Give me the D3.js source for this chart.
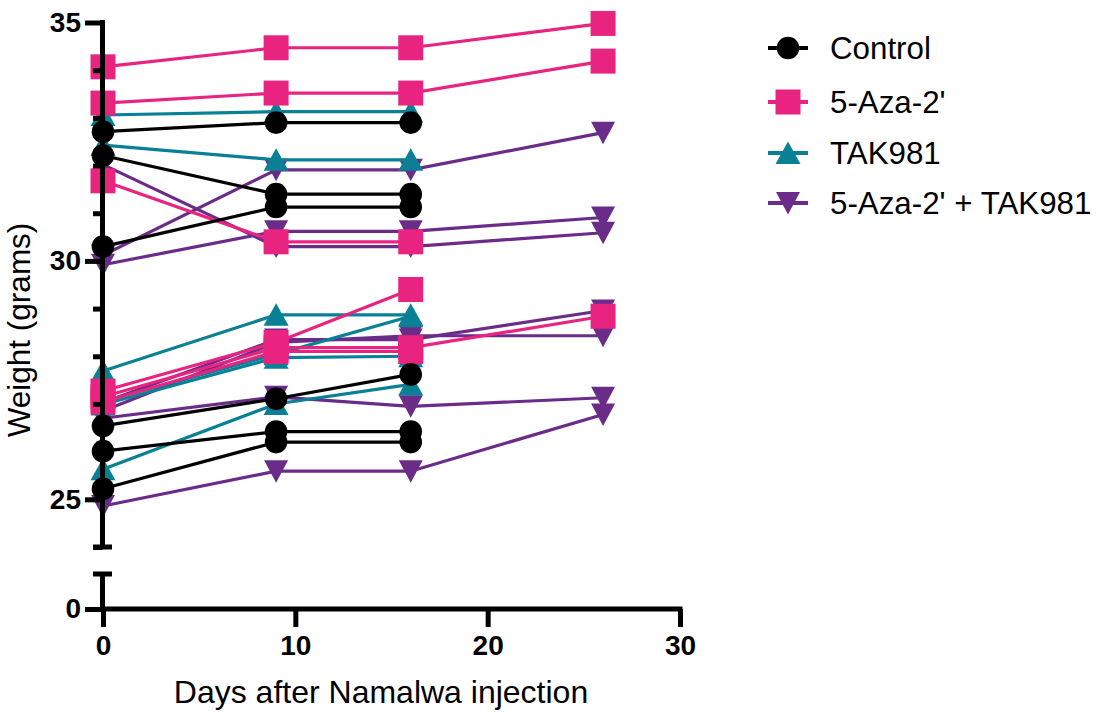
<!DOCTYPE html>
<html><head><meta charset="utf-8">
<script src="https://cdn.jsdelivr.net/npm/d3@7"></script>
<style>
html,body{margin:0;padding:0;background:#fff;}
svg{display:block;}
text{font-family:"Liberation Sans",Arial,Helvetica,sans-serif;}
</style></head>
<body>
<svg id="chart" width="1102" height="719"></svg>
<script>
// ---- data ----
const days = [0, 9, 16, 26];
const seriesNames = ["Control", "5-Aza-2'", "TAK981", "5-Aza-2' + TAK981"];
const seriesColors = ["#000000", "#E82480", "#0A8096", "#6A2C88"];
const seriesShapes = ["circle", "square", "triangleUp", "triangleDown"];

const control = [
  [32.71, 32.90, 32.90],
  [32.21, 31.40, 31.40],
  [30.30, 31.13, 31.13],
  [26.54, 27.11, 27.62],
  [26.01, 26.42, 26.42],
  [25.22, 26.20, 26.20]
];
const aza = [
  [34.07, 34.47, 34.47, 34.98],
  [33.31, 33.52, 33.52, 34.19],
  [31.68, 30.40, 30.40],
  [27.27, 28.29, 29.40],
  [27.15, 28.18, 28.18, 28.84],
  [27.04, 28.10, 28.10]
];
const tak = [
  [33.06, 33.13, 33.13],
  [32.43, 32.12, 32.12],
  [27.69, 28.87, 28.87],
  [27.05, 28.04, 28.84],
  [26.99, 27.97, 28.00],
  [25.63, 27.00, 27.41]
];
const combo = [
  [32.02, 30.30, 30.30, 30.59],
  [30.12, 31.91, 31.91, 32.69],
  [29.92, 30.62, 30.62, 30.91],
  [27.03, 28.35, 28.35, 28.96],
  [26.85, 28.29, 28.43, 28.43],
  [26.70, 27.15, 26.95, 27.13],
  [24.86, 25.59, 25.59, 26.78]
];
const xTicks = [0, 10, 20, 30];
const yMajorTicks = [25, 30, 35];
const yMinorTicks = [24, 26, 27, 28, 29, 31, 32, 33, 34];
const xTitle = "Days after Namalwa injection";
const yTitle = "Weight (grams)";

// ---- layout ----
const svg = d3.select("#chart");
const x = d3.scaleLinear().domain([0, 30]).range([103, 680]);
const yU = d3.scaleLinear().domain([24, 35]).range([547, 22.5]);
const yL = d3.scaleLinear().domain([0, 0.73]).range([609, 574]);
const axisX = 102.5;
const SW = 5;

// markers
function shapePath(shape) {
  if (shape === "circle") return d3.symbol().type(d3.symbolCircle).size(Math.PI * 11.3 * 11.3)();
  if (shape === "square") return "M-12.5,-12.5H12.5V12.5H-12.5Z";
  if (shape === "triangleUp") return "M0,-11.5L12.5,11L-12.5,11Z";
  return "M0,11.5L12,-11L-12,-11Z";
}

const groups = [combo, tak, aza, control];
const groupIdx = [3, 2, 1, 0];
const line = d3.line().x((d, i) => x(days[i])).y(d => yU(d));

const plot = svg.append("g");
groups.forEach((grp, gi) => {
  const si = groupIdx[gi];
  const g = plot.append("g");
  grp.forEach(mouse => {
    g.append("path").attr("d", line(mouse)).attr("fill", "none")
      .attr("stroke", seriesColors[si]).attr("stroke-width", 3.2);
  });
  grp.forEach(mouse => {
    mouse.forEach((v, i) => {
      g.append("path").attr("d", shapePath(seriesShapes[si]))
        .attr("transform", `translate(${x(days[i])},${yU(v)})`)
        .attr("fill", seriesColors[si]);
    });
  });
});

// ---- axes ----
function styleAxis(g) {
  g.selectAll("line").attr("stroke", "#000").attr("stroke-width", SW);
  g.selectAll("path.domain").remove();
  g.selectAll("text").attr("fill", "#000").attr("font-weight", "bold")
    .attr("font-size", "28px");
}
// upper y segment
const axU = svg.append("g").attr("transform", `translate(${axisX},0)`);
axU.append("line").attr("x1", 0).attr("x2", 0).attr("y1", yU(35) - SW / 2).attr("y2", yU(24))
  .attr("stroke", "#000").attr("stroke-width", SW);
axU.call(d3.axisLeft(yU).tickValues(yMajorTicks).tickSize(17.5).tickSizeOuter(0).tickPadding(4).tickFormat(d3.format("d")));
axU.append("g").call(d3.axisLeft(yU).tickValues(yMinorTicks).tickSize(9.5).tickSizeOuter(0).tickFormat(""));
styleAxis(axU);
// cap for broken axis
axU.append("line").attr("x1", -9.5).attr("x2", 9.5).attr("y1", yU(24)).attr("y2", yU(24))
  .attr("stroke", "#000").attr("stroke-width", SW);

// lower y segment
const axL = svg.append("g").attr("transform", `translate(${axisX},0)`);
axL.append("line").attr("x1", 0).attr("x2", 0).attr("y1", yL.range()[1]).attr("y2", yL(0))
  .attr("stroke", "#000").attr("stroke-width", SW);
axL.call(d3.axisLeft(yL).tickValues([0]).tickSize(17.5).tickSizeOuter(0).tickPadding(4).tickFormat(d3.format("d")));
styleAxis(axL);
axL.append("line").attr("x1", -9.5).attr("x2", 9.5).attr("y1", yL.range()[1]).attr("y2", yL.range()[1])
  .attr("stroke", "#000").attr("stroke-width", SW);

// x axis
const axB = svg.append("g").attr("transform", `translate(0,${yL(0)})`);
axB.append("line").attr("x1", x(0)).attr("x2", x(30) + SW / 2).attr("y1", 0).attr("y2", 0)
  .attr("stroke", "#000").attr("stroke-width", SW);
axB.call(d3.axisBottom(x).tickValues(xTicks).tickSize(18).tickSizeOuter(0).tickPadding(8).tickFormat(d3.format("d")));
styleAxis(axB);

// titles
svg.append("text").attr("x", 381).attr("y", 703).attr("text-anchor", "middle")
  .attr("font-size", "32px").text(xTitle);
svg.append("text").attr("transform", "translate(30,330) rotate(-90)").attr("text-anchor", "middle")
  .attr("font-size", "31.5px").text(yTitle);

// legend
const legendY = [48, 102, 153, 203];
const lg = svg.append("g");
seriesNames.forEach((name, i) => {
  const row = lg.append("g").attr("transform", `translate(788,${legendY[i]})`);
  row.append("line").attr("x1", -20).attr("x2", 20).attr("y1", 0).attr("y2", 0)
    .attr("stroke", seriesColors[i]).attr("stroke-width", 4);
  row.append("path").attr("d", shapePath(seriesShapes[i])).attr("fill", seriesColors[i]);
  row.append("text").attr("x", 42).attr("y", 0).attr("dy", "0.35em")
    .attr("font-size", "31.3px").attr("fill", "#000").text(name);
});
</script>
</body></html>
